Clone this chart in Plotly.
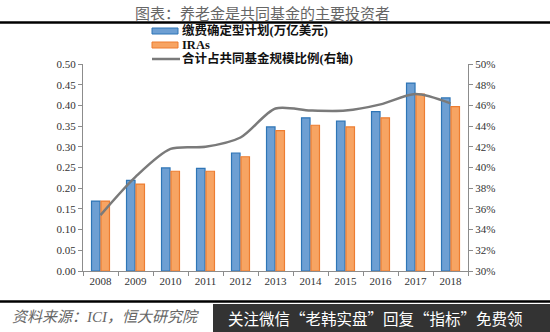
import plotly.graph_objects as go

years = ["2008", "2009", "2010", "2011", "2012", "2013", "2014", "2015", "2016", "2017", "2018"]
dc_plans = [0.169, 0.219, 0.249, 0.248, 0.285, 0.348, 0.370, 0.362, 0.385, 0.454, 0.418]
iras = [0.169, 0.210, 0.241, 0.241, 0.276, 0.339, 0.352, 0.348, 0.370, 0.427, 0.397]
share = [0.354, 0.391, 0.418, 0.420, 0.429, 0.457, 0.455, 0.455, 0.461, 0.471, 0.462]
names = ["缴费确定型计划(万亿美元)", "IRAs", "合计占共同基金规模比例(右轴)"]

W, H = 550, 332
L, R, T, B = 83, 468, 64, 271

def px(x):
    return (x - L) / (R - L)

def py(y):
    return (B - y) / (B - T)

serif = "Liberation Serif, DejaVu Serif, serif"
cjk = "Noto Sans CJK SC, Noto Sans, sans-serif"

blue_fill, blue_edge = "#6d9fd3", "#2e75b6"
orange_fill, orange_edge = "#f7a463", "#ed7d31"
line_color = "#7a7a7a"

fig = go.Figure()
fig.add_trace(go.Bar(
    x=years, y=dc_plans, name=names[0],
    marker=dict(color=blue_fill, line=dict(color=blue_edge, width=1.2)),
))
fig.add_trace(go.Bar(
    x=years, y=iras, name=names[1],
    marker=dict(color=orange_fill, line=dict(color=orange_edge, width=1.2)),
))
fig.add_trace(go.Scatter(
    x=years, y=share, name=names[2], yaxis="y2",
    mode="lines", line=dict(color=line_color, width=2.5, shape="spline", smoothing=0.8),
))

axis_common = dict(
    showgrid=False, zeroline=False, showline=True, linecolor="#8c8c8c", linewidth=1,
    ticks="outside", ticklen=4, tickcolor="#8c8c8c",
    tickfont=dict(family=serif, size=11, color="#333333"),
)

fig.update_layout(
    width=W, height=H,
    margin=dict(l=L, r=W - R, t=T, b=H - B),
    paper_bgcolor="white", plot_bgcolor="white",
    barmode="group", bargap=0.46, bargroupgap=0.1,
    showlegend=False,
    xaxis=dict(type="category", tickson="boundaries", **axis_common),
    yaxis=dict(range=[0, 0.5], dtick=0.05, tickformat=".2f", **axis_common),
    yaxis2=dict(range=[0.30, 0.50], dtick=0.02, tickformat=".0%", overlaying="y",
                side="right", **axis_common),
)

legend_y = [31, 45, 59]
shapes = [
    dict(type="line", xref="paper", yref="paper", x0=px(0), x1=px(W), y0=py(22.5), y1=py(22.5),
         line=dict(color="black", width=2.5)),
    dict(type="line", xref="paper", yref="paper", x0=px(0), x1=px(W), y0=py(301.5), y1=py(301.5),
         line=dict(color="black", width=2.5)),
    dict(type="rect", xref="paper", yref="paper", x0=px(213), x1=px(W), y0=py(304), y1=py(H),
         fillcolor="#333333", line=dict(width=0)),
    # legend swatches
    dict(type="rect", xref="paper", yref="paper", x0=px(152), x1=px(178),
         y0=py(legend_y[0] - 3), y1=py(legend_y[0] + 3),
         fillcolor=blue_fill, line=dict(color=blue_edge, width=1)),
    dict(type="rect", xref="paper", yref="paper", x0=px(152), x1=px(178),
         y0=py(legend_y[1] - 3), y1=py(legend_y[1] + 3),
         fillcolor=orange_fill, line=dict(color=orange_edge, width=1)),
    dict(type="line", xref="paper", yref="paper", x0=px(152), x1=px(180),
         y0=py(legend_y[2]), y1=py(legend_y[2]),
         line=dict(color=line_color, width=2.5)),
]
fig.update_layout(shapes=shapes)

for nm, yy in zip(names, legend_y):
    fig.add_annotation(
        text="<b>" + nm + "</b>", xref="paper", yref="paper",
        x=px(181), y=py(yy), xanchor="left", yanchor="middle", showarrow=False,
        borderpad=0,
        font=dict(family=serif + ", " + cjk, size=12.5, color="#111111"),
    )

fig.add_annotation(
    text="图表：养老金是共同基金的主要投资者", xref="paper", yref="paper",
    x=px(262), y=py(12), xanchor="center", yanchor="middle", showarrow=False,
    font=dict(family=cjk, size=15, color="#666666"),
)
fig.add_annotation(
    text="<i>资料来源：ICI，恒大研究院</i>", xref="paper", yref="paper",
    x=px(10), y=py(317), xanchor="left", yanchor="middle", showarrow=False,
    font=dict(family=serif + ", " + cjk, size=15, color="#666666"),
)
fig.add_annotation(
    text="关注微信“老韩实盘”回复“指标”免费领", xref="paper", yref="paper",
    x=px(226), y=py(318), xanchor="left", yanchor="middle", showarrow=False,
    font=dict(family=cjk, size=15.5, color="white"),
)

fig.write_html("out.html")
